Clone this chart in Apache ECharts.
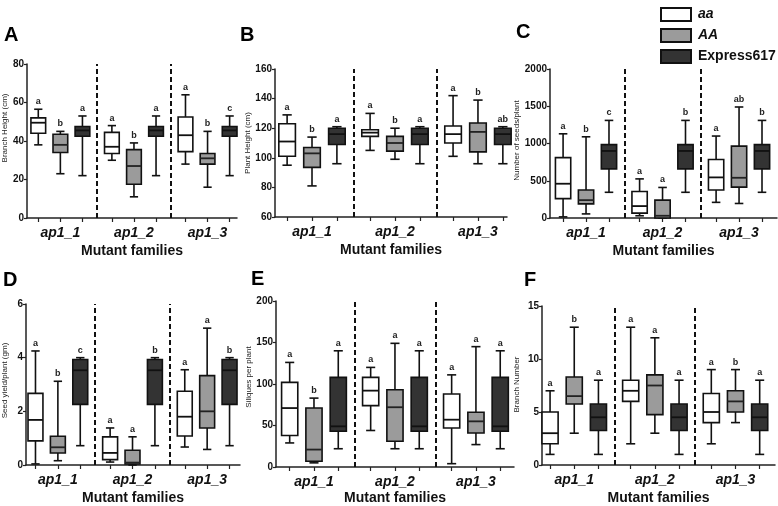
<!DOCTYPE html>
<html><head><meta charset="utf-8">
<script src="https://cdn.jsdelivr.net/npm/echarts@6/dist/echarts.min.js"></script>
<style>html,body{margin:0;padding:0;background:#fff}#c{width:778px;height:506px}</style>
</head><body><div id="c"></div>
<script>
// ---------- DATA ----------
const families = ['ap1_1', 'ap1_2', 'ap1_3'];
const genotypes = ['aa', 'AA', 'Express617'];
const panelLetters = ['A', 'B', 'C', 'D', 'E', 'F'];
const yTitles = ['Branch Height (cm)', 'Plant Height (cm)', 'Number of seeds/plant',
                 'Seed yield/plant (gm)', 'Siliques per plant', 'Branch Number'];
const yMins = [0, 60, 0, 0, 0, 0];
const yMaxs = [80, 160, 2000, 6, 200, 15];
const yIntervals = [20, 20, 500, 2, 50, 5];

// each box: [min, Q1, median, Q3, max], one per family
const branchHeight_aa = [[38, 44, 49.5, 52, 56.5], [30, 33.5, 37, 44.5, 48], [28, 34.5, 43, 52.5, 64]];
const branchHeight_AA = [[23, 34, 38, 43.5, 45], [11, 17.5, 27, 35.5, 39], [16, 28, 31, 33.5, 45]];
const branchHeight_Ex = [[22, 42.5, 45.5, 47.5, 53], [22, 42.5, 45.5, 47.5, 53], [22, 42.5, 45.5, 47.5, 53]];
const branchHeight_sig = [['a', 'b', 'a'], ['a', 'b', 'a'], ['a', 'b', 'c']];

const plantHeight_aa = [[95, 101, 111, 123, 129], [105, 114.5, 117, 119, 130], [101, 110, 116, 121.5, 142]];
const plantHeight_AA = [[81, 93.5, 103, 107, 114], [99, 104.5, 110, 114.5, 120], [96, 104, 117.5, 123.5, 139]];
const plantHeight_Ex = [[96, 109, 116, 120, 121], [96, 109, 116, 120, 121], [96, 109, 116, 120, 121]];
const plantHeight_sig = [['a', 'b', 'a'], ['a', 'b', 'a'], ['a', 'b', 'ab']];

const seeds_aa = [[15, 260, 460, 810, 1130], [30, 65, 160, 355, 525], [210, 375, 545, 785, 1100]];
const seeds_AA = [[55, 190, 240, 375, 1090], [0, 0, 30, 240, 410], [195, 415, 540, 965, 1490]];
const seeds_Ex = [[345, 660, 900, 985, 1310], [345, 660, 900, 985, 1310], [345, 660, 900, 985, 1310]];
const seeds_sig = [['a', 'b', 'c'], ['a', 'a', 'b'], ['a', 'ab', 'b']];

const seedYield_aa = [[0.04, 0.9, 1.68, 2.67, 4.25], [0.11, 0.2, 0.45, 1.05, 1.38], [0.67, 1.08, 1.8, 2.75, 3.55]];
const seedYield_AA = [[0.16, 0.45, 0.66, 1.07, 3.12], [0, 0.04, 0.09, 0.55, 1.05], [0.58, 1.38, 2.0, 3.33, 5.1]];
const seedYield_Ex = [[0.72, 2.26, 3.53, 3.93, 4.0], [0.72, 2.26, 3.53, 3.93, 4.0], [0.72, 2.26, 3.53, 3.93, 4.0]];
const seedYield_sig = [['a', 'b', 'c'], ['a', 'a', 'b'], ['a', 'a', 'b']];

const siliques_aa = [[29, 38, 71, 102, 126], [44, 74, 92, 108, 120], [4, 47, 57, 88, 111]];
const siliques_AA = [[5, 7, 21, 71, 83], [22, 31, 72, 93, 149], [27, 41, 55, 66, 145]];
const siliques_Ex = [[22, 43, 49, 108, 140], [22, 43, 49, 108, 140], [22, 43, 49, 108, 140]];
const siliques_sig = [['a', 'b', 'a'], ['a', 'a', 'a'], ['a', 'a', 'a']];

const branchNum_aa = [[1, 2, 3, 5, 7], [2, 6, 7, 8, 13], [2, 4, 5, 6.75, 9]];
const branchNum_AA = [[3, 5.75, 6.5, 8.3, 13], [3, 4.75, 7.5, 8.5, 12], [4, 5, 6, 7, 9]];
const branchNum_Ex = [[1, 3.25, 4.5, 5.75, 8], [1, 3.25, 4.5, 5.75, 8], [1, 3.25, 4.5, 5.75, 8]];
const branchNum_sig = [['a', 'b', 'a'], ['a', 'a', 'a'], ['a', 'b', 'a']];

// ---------- LAYOUT ----------
const panelStats = [
  [branchHeight_aa, branchHeight_AA, branchHeight_Ex, branchHeight_sig],
  [plantHeight_aa, plantHeight_AA, plantHeight_Ex, plantHeight_sig],
  [seeds_aa, seeds_AA, seeds_Ex, seeds_sig],
  [seedYield_aa, seedYield_AA, seedYield_Ex, seedYield_sig],
  [siliques_aa, siliques_AA, siliques_Ex, siliques_sig],
  [branchNum_aa, branchNum_AA, branchNum_Ex, branchNum_sig]
];
const grids = [
  {left: 23, top: 64, width: 214, height: 154},
  {left: 275, top: 69, width: 232, height: 148},
  {left: 550, top: 69, width: 227, height: 149},
  {left: 25, top: 304, width: 215, height: 163},
  {left: 276, top: 301, width: 238, height: 170},
  {left: 542, top: 306, width: 233, height: 165}
];
const xRanges = [[0.047, 2.90], [0.054, 2.85], [0.029, 2.996], [0.073, 2.94], [0.031, 2.97], [0.10, 2.99]];
const yNameGaps = [12, 16, 26, 17, 20, 21];
const yNameShift = [26, 0, 6, 8, 14, 2];
const xNameGaps = [26, 26, 26, 26, 24, 26];
const letterPos = [[4, 25], [240, 25], [516, 22], [3, 270], [251, 269], [524, 270]];
const OFFSET = 0.3, BOXW = 0.2;
const fills = ['#ffffff', '#9b9b9b', '#333333'];
const medianColors = ['#111', '#222', '#111'];
const FONT = 'Liberation Sans, Arial, sans-serif';

const tickVals = [];
for (let g = 0; g < 3; g++) for (let s = 0; s < 3; s++) tickVals.push(g + 0.5 + (s - 1) * OFFSET);

function renderBox(s) {
  return function (params, api) {
    const x = api.value(0);
    const v = [1, 2, 3, 4, 5].map(i => api.value(i));
    const p = v.map(val => api.coord([x, val]));
    const cx = p[0][0];
    const w = api.size([BOXW, 0])[0];
    const cap = w * 0.28;
    const sig = api.value(6);
    const lineStyle = {stroke: '#111', lineWidth: 1.6};
    const children = [
      {type: 'line', shape: {x1: cx, y1: p[3][1], x2: cx, y2: p[4][1]}, style: lineStyle},
      {type: 'line', shape: {x1: cx, y1: p[1][1], x2: cx, y2: p[0][1]}, style: lineStyle},
      {type: 'line', shape: {x1: cx - cap, y1: p[4][1], x2: cx + cap, y2: p[4][1]}, style: lineStyle},
      {type: 'line', shape: {x1: cx - cap, y1: p[0][1], x2: cx + cap, y2: p[0][1]}, style: lineStyle},
      {type: 'rect', shape: {x: cx - w / 2, y: p[3][1], width: w, height: Math.max(p[1][1] - p[3][1], 0.5)},
        style: {fill: fills[s], stroke: '#111', lineWidth: 1.6}},
      {type: 'line', shape: {x1: cx - w / 2, y1: p[2][1], x2: cx + w / 2, y2: p[2][1]},
        style: {stroke: medianColors[s], lineWidth: 1.8}},
      {type: 'text', x: cx, y: p[4][1] - 3,
        style: {text: sig, textAlign: 'center', textVerticalAlign: 'bottom',
          font: 'bold 9px ' + FONT, fill: '#222'}}
    ];
    return {type: 'group', children};
  };
}

const xAxes = [], yAxes = [], series = [], graphics = [];
for (let i = 0; i < 6; i++) {
  xAxes.push({
    gridIndex: i, type: 'value', min: xRanges[i][0], max: xRanges[i][1],
    axisLine: {show: true, onZero: false, lineStyle: {color: '#222', width: 1.5}},
    axisTick: {show: true, customValues: tickVals, length: 4, lineStyle: {color: '#222', width: 1.2}},
    axisLabel: {customValues: [0.5, 1.5, 2.5], formatter: val => families[Math.round(val - 0.5)],
      fontFamily: FONT, fontWeight: 'bold', fontStyle: 'italic', fontSize: 14, color: '#111', margin: 8},
    splitLine: {show: false},
    name: 'Mutant families', nameLocation: 'middle', nameGap: xNameGaps[i],
    nameTextStyle: {fontFamily: FONT, fontWeight: 'bold', fontSize: 14, color: '#111'}
  });
  yAxes.push({
    gridIndex: i, type: 'value', min: yMins[i], max: yMaxs[i], interval: yIntervals[i],
    axisLine: {show: true, lineStyle: {color: '#222', width: 1.5}},
    axisTick: {show: true, length: 3, lineStyle: {color: '#222', width: 1.2}},
    axisLabel: {fontFamily: FONT, fontWeight: 'bold', fontSize: 10, color: '#111', margin: 3,
      formatter: val => String(val)},
    splitLine: {show: false},
    name: yTitles[i], nameLocation: 'middle', nameGap: yNameGaps[i],
    nameTextStyle: {fontFamily: FONT, fontSize: 8, color: '#222', padding: [0, 0, 0, yNameShift[i]]}
  });
  const stats = panelStats[i];
  for (let s = 0; s < 3; s++) {
    const data = stats[s].map((b, g) => [g + 0.5 + (s - 1) * OFFSET].concat(b).concat([stats[3][g][s]]));
    const ser = {
      type: 'custom', name: genotypes[s], xAxisIndex: i, yAxisIndex: i,
      itemStyle: {color: fills[s], borderColor: '#111', borderWidth: 2},
      renderItem: renderBox(s), data: data, encode: {x: 0, y: [1, 2, 3, 4, 5]}, clip: false
    };
    if (s === 0) {
      ser.markLine = {
        silent: true, symbol: ['none', 'none'], label: {show: false},
        lineStyle: {type: [5, 3], color: '#111', width: 2},
        data: [{xAxis: 1}, {xAxis: 2}]
      };
    }
    series.push(ser);
  }
  graphics.push({type: 'text', left: letterPos[i][0], top: letterPos[i][1],
    style: {text: panelLetters[i], font: 'bold 20px ' + FONT, fill: '#000'}});
}

const chart = echarts.init(document.getElementById('c'), null, {renderer: 'canvas'});
chart.setOption({
  animation: false,
  backgroundColor: '#fff',
  grid: grids,
  xAxis: xAxes,
  yAxis: yAxes,
  legend: {
    orient: 'vertical', left: 655, top: 2, itemWidth: 30, itemHeight: 13, itemGap: 6,
    textStyle: {fontFamily: FONT, fontWeight: 'bold', fontSize: 14, color: '#111', padding: [0, 0, 0, 2]},
    data: genotypes.map((g, i) => ({
      name: g, icon: 'rect',
      itemStyle: {color: fills[i], borderColor: '#111', borderWidth: 2},
      textStyle: {fontStyle: i < 2 ? 'italic' : 'normal'}
    }))
  },
  graphic: graphics,
  series: series
});
</script></body></html>
